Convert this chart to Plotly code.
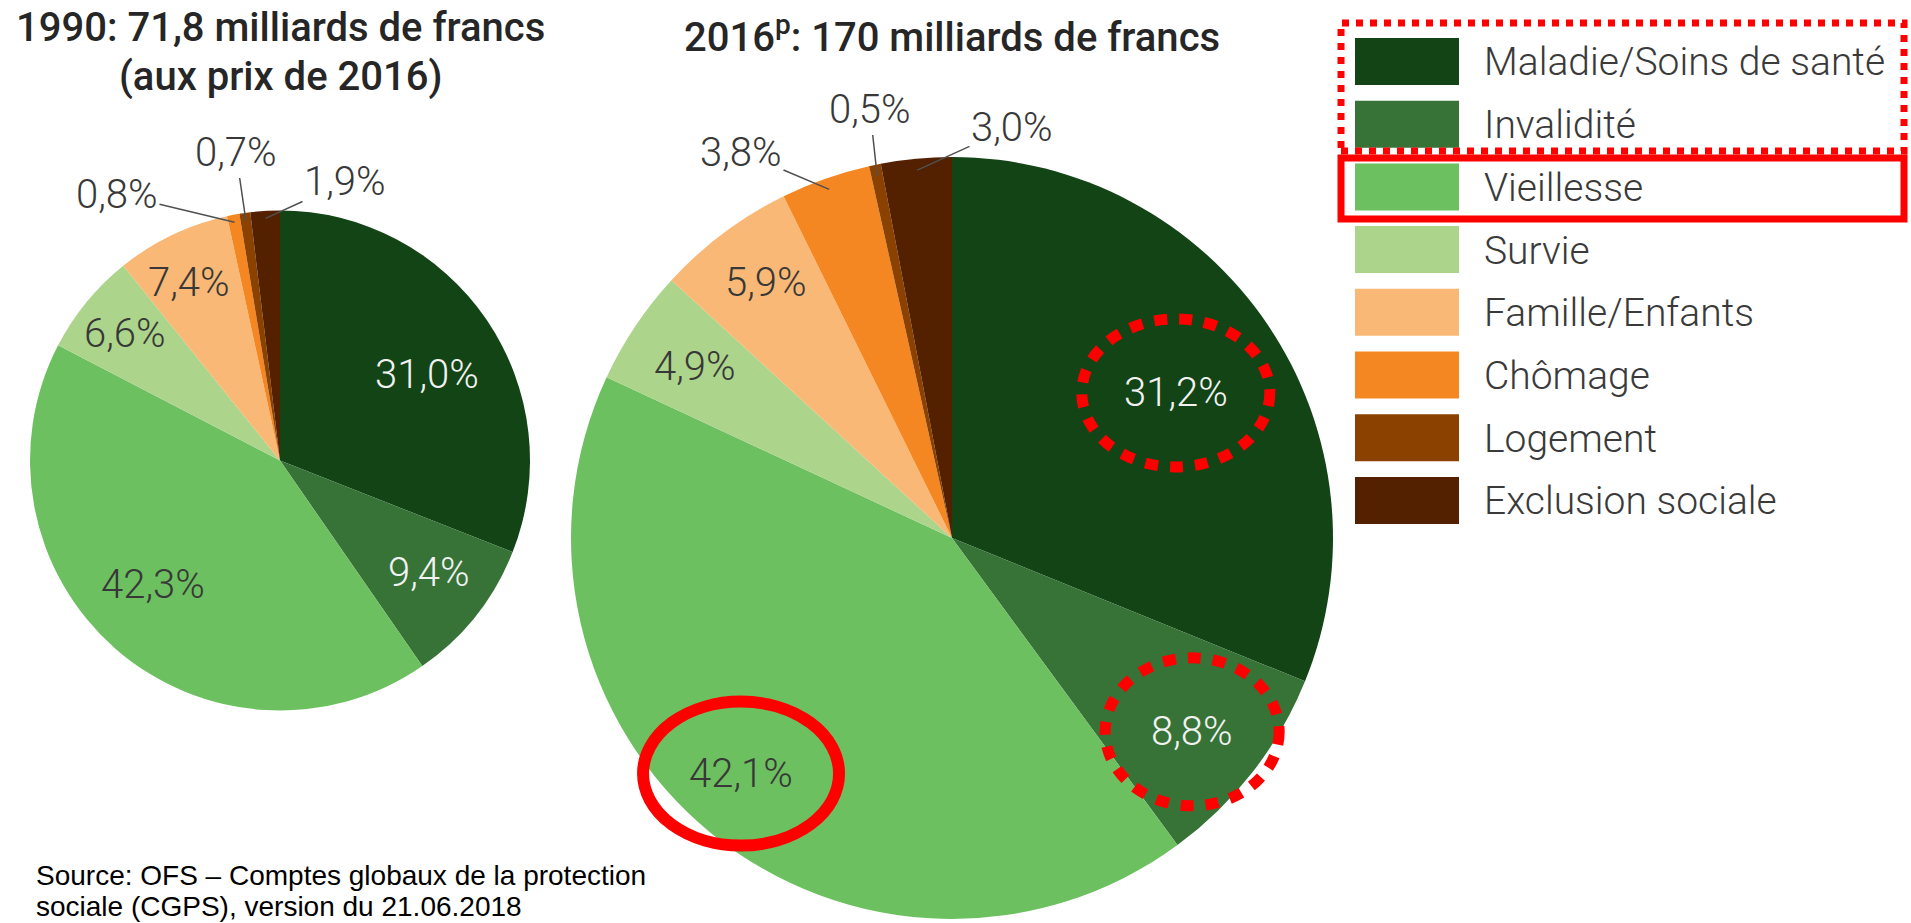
import math
import plotly.graph_objects as go

W, H = 1911, 923

# ---------------- data ----------------
categories = ["Maladie/Soins de santé", "Invalidité", "Vieillesse", "Survie",
              "Famille/Enfants", "Chômage", "Logement", "Exclusion sociale"]
colors = ["#134416", "#377337", "#6CC060", "#ADD48B",
          "#F9B875", "#F58723", "#8B4200", "#532000"]
values_1990 = [31.0, 9.4, 42.3, 6.6, 7.4, 0.8, 0.7, 1.9]
values_2016 = [31.2, 8.8, 42.1, 4.9, 5.9, 3.8, 0.5, 3.0]

title_1990 = ["1990: 71,8 milliards de francs", "(aux prix de 2016)"]
title_2016 = "2016<sup>p</sup>: 170 milliards de francs"
source_lines = ["Source: OFS – Comptes globaux de la protection",
                "sociale (CGPS), version du 21.06.2018"]

# ---------------- layout / style (pixel positions) ----------------
geom = {
    "1990": dict(cx=280, cy=460.5, r=250),
    "2016": dict(cx=952, cy=538, r=381),
}
# label placement per slice: ("in", radius fraction, angle offset) or ("out", text x, text y)
label_style = {
    "1990": [("in", 0.68, 4), ("in", 0.745, -1.5), ("in", 0.71, 4.4), ("in", 0.80, 0),
             ("in", 0.80, -1.6), ("out", 117, 194), ("out", 236, 153), ("out", 345, 182)],
    "2016": [("in", 0.70, 1), ("in", 0.81, 1), ("in", 0.83, 2.5), ("in", 0.81, 0),
             ("in", 0.83, 0.7), ("out", 741, 152), ("out", 870, 110), ("out", 1012, 127)],
}
light_text = [True, True, False, False, False, False, False, False]
LABEL_FONT = dict(family="Roboto", size=40, weight=300)


def X(px):
    return px / W


def Y(py):
    return 1 - py / H


def fmt(v):
    return f"{v:.1f}".replace(".", ",") + "%"


fig = go.Figure()
annotations = []
shapes = []
label_pos = {}

for key, vals in (("1990", values_1990), ("2016", values_2016)):
    g = geom[key]
    cx, cy, r = g["cx"], g["cy"], g["r"]
    fig.add_trace(go.Pie(
        values=vals, labels=categories, sort=False, direction="clockwise", rotation=0,
        marker=dict(colors=colors, line=dict(width=0)),
        textinfo="none", hoverinfo="label+percent", showlegend=False,
        domain=dict(x=[X(cx - r), X(cx + r)], y=[Y(cy + r), Y(cy - r)]),
    ))
    total = sum(vals)
    cum = 0.0
    label_pos[key] = []
    for i, v in enumerate(vals):
        mid = (cum + v / 2) / total
        cum += v
        st = label_style[key][i]
        if st[0] == "in":
            th = math.radians(360 * mid + st[2])
            px = cx + st[1] * r * math.sin(th)
            py = cy - st[1] * r * math.cos(th)
            label_pos[key].append((px, py))
            annotations.append(dict(
                x=X(px), y=Y(py), xref="paper", yref="paper", text=fmt(v), showarrow=False,
                font=dict(color="#F2F2F2" if light_text[i] else "#383838", **LABEL_FONT),
                xanchor="center", yanchor="middle"))
        else:
            th = math.radians(360 * mid)
            ex = cx + 0.97 * r * math.sin(th)
            ey = cy - 0.97 * r * math.cos(th)
            tx, ty = st[1], st[2]
            label_pos[key].append((tx, ty))
            annotations.append(dict(
                x=X(ex), y=Y(ey), xref="paper", yref="paper", text=fmt(v),
                showarrow=True, arrowhead=0, arrowwidth=1.5, arrowcolor="#505050",
                ax=tx - ex, ay=ty - ey, axref="pixel", ayref="pixel", standoff=0,
                font=dict(color="#383838", **LABEL_FONT)))

# titles
TITLE_FONT = dict(family="Roboto", size=40, weight=500, color="#262626")
annotations.append(dict(x=X(280), y=Y(28), xref="paper", yref="paper", text=title_1990[0],
                        showarrow=False, font=TITLE_FONT, xanchor="center", yanchor="middle"))
annotations.append(dict(x=X(280), y=Y(77), xref="paper", yref="paper", text=title_1990[1],
                        showarrow=False, font=TITLE_FONT, xanchor="center", yanchor="middle"))
annotations.append(dict(x=X(952), y=Y(34), xref="paper", yref="paper", text=title_2016,
                        showarrow=False, font=TITLE_FONT, xanchor="center", yanchor="middle"))

# source
for j, line in enumerate(source_lines):
    annotations.append(dict(x=X(34), y=Y(875 + 31 * j), xref="paper", yref="paper", text=line,
                            showarrow=False, xanchor="left", yanchor="middle",
                            font=dict(family="Liberation Sans", size=28, color="#000000")))

# legend (manual, large swatches)
SW_X0, SW_X1, ROW0, PITCH, SW_H = 1355, 1459, 61.5, 62.7, 47
for i, (cat, col) in enumerate(zip(categories, colors)):
    yc = ROW0 + i * PITCH
    shapes.append(dict(type="rect", xref="paper", yref="paper",
                       x0=X(SW_X0), x1=X(SW_X1), y0=Y(yc + SW_H / 2), y1=Y(yc - SW_H / 2),
                       fillcolor=col, line=dict(width=0), layer="above"))
    annotations.append(dict(x=X(1482), y=Y(yc + 1), xref="paper", yref="paper", text=cat,
                            showarrow=False, xanchor="left", yanchor="middle",
                            font=dict(family="Roboto", size=39, weight=300, color="#3A3A3A")))

# red highlight boxes on legend
shapes.append(dict(type="rect", xref="paper", yref="paper",
                   x0=X(1341), x1=X(1904), y0=Y(151), y1=Y(23),
                   line=dict(color="#FF0000", width=7, dash="dot"), layer="above"))
shapes.append(dict(type="rect", xref="paper", yref="paper",
                   x0=X(1341), x1=X(1904), y0=Y(219), y1=Y(158),
                   line=dict(color="#FF0000", width=7), layer="above"))

# red highlight ellipses around 2016 labels
ell = [(0, 94, 74, "13px,12px", 11), (1, 87, 74, "13px,12px", 11), (2, 98, 72, "solid", 12)]
for idx, rx, ry, dash, wdt in ell:
    px, py = label_pos["2016"][idx]
    shapes.append(dict(type="circle", xref="paper", yref="paper",
                       x0=X(px - rx), x1=X(px + rx), y0=Y(py + ry), y1=Y(py - ry),
                       line=dict(color="#FF0000", width=wdt, dash=dash), layer="above"))

fig.update_layout(
    width=W, height=H, margin=dict(l=0, r=0, t=0, b=0),
    paper_bgcolor="white", plot_bgcolor="white",
    annotations=annotations, shapes=shapes,
)

fig.write_html("out.html", config={"displayModeBar": False},
               post_script="document.body.style.margin='0px';document.body.style.overflow='hidden';")
